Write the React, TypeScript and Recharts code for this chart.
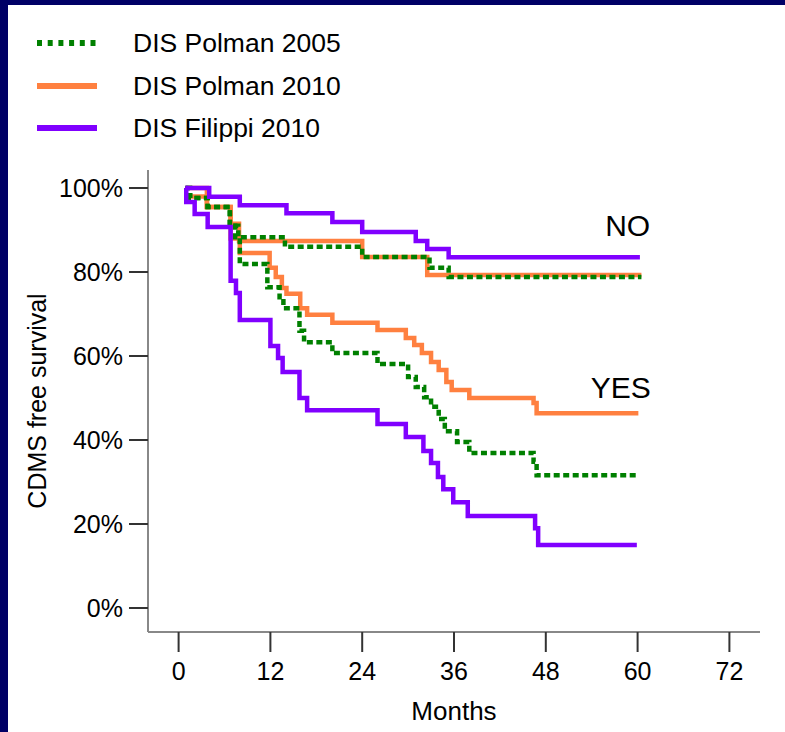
import { Line, LineChart, ReferenceDot, XAxis, YAxis } from "recharts";

// Kaplan-Meier style step curves, [month, % CDMS-free]
const polman2005No: [number, number][] = [
  [0.9, 100], [1.5, 97.6], [3.8, 95.5], [6.7, 91.0], [7.8, 88.3], [13.9, 86.0],
  [24.0, 83.6], [32.8, 81.0], [35.3, 78.8], [60.5, 78.8],
];
const polman2005Yes: [number, number][] = [
  [0.9, 100], [1.5, 97.6], [3.8, 95.5], [6.7, 91.0], [7.4, 88.3], [8.0, 81.9],
  [11.6, 76.4], [13.2, 74.0], [13.7, 71.4], [15.8, 66.0], [16.4, 63.3], [20.1, 60.7],
  [26.0, 58.1], [30.0, 55.0], [31.0, 52.6], [32.1, 50.2], [33.0, 47.9], [34.0, 45.0],
  [34.8, 42.1], [36.4, 39.5], [38.0, 36.9], [46.4, 34.8], [46.8, 31.6], [59.9, 31.6],
];
const polman2010No: [number, number][] = [
  [0.9, 100], [3.7, 95.5], [6.8, 91.5], [7.9, 87.4], [24.0, 83.6], [32.5, 79.3], [60.5, 79.3],
];
const polman2010Yes: [number, number][] = [
  [0.9, 98], [3.7, 95.5], [6.8, 88.0], [8.0, 84.5], [11.9, 81.0], [12.7, 78.8],
  [13.5, 76.2], [14.1, 74.8], [15.9, 71.4], [16.8, 69.8], [20.1, 67.9], [26.0, 66.2],
  [29.7, 64.3], [30.8, 62.6], [31.8, 60.7], [33.0, 58.6], [34.0, 56.7], [35.0, 53.8],
  [35.7, 51.9], [38.0, 50.0], [46.4, 48.8], [46.8, 46.4], [60.1, 46.4],
];
const filippiNo: [number, number][] = [
  [0.9, 100], [4.0, 97.9], [8.0, 95.9], [14.1, 94.0], [20.1, 91.9], [24.0, 89.5],
  [31.0, 87.4], [32.5, 85.5], [35.3, 83.5], [60.3, 83.5],
];
const filippiYes: [number, number][] = [
  [0.9, 100], [1.0, 96.7], [2.1, 93.8], [3.8, 90.7], [6.8, 77.9], [7.5, 75.0],
  [8.0, 68.6], [12.0, 62.4], [13.0, 59.5], [13.6, 56.2], [15.8, 50.0], [16.8, 47.1],
  [26.0, 43.8], [29.7, 40.7], [32.0, 37.4], [33.0, 34.5], [33.9, 31.2], [34.6, 28.3],
  [35.9, 25.2], [37.8, 21.9], [46.6, 19.0], [47.0, 15.0], [59.9, 15.0],
];

const xTicks = [0, 12, 24, 36, 48, 60, 72];
const yTicks = [0, 20, 40, 60, 80, 100];

const GREEN = "#008000";
const ORANGE = "#ff8040";
const PURPLE = "#8000ff";
const FONT = "'Liberation Sans', Arial, sans-serif";

const legendItems = [
  { name: "DIS Polman 2005", color: GREEN, dash: "5 5.7" },
  { name: "DIS Polman 2010", color: ORANGE, dash: undefined },
  { name: "DIS Filippi 2010", color: PURPLE, dash: undefined },
];

const toPoints = (d: [number, number][]) => d.map(([m, p]) => ({ m, p }));

const curves = [
  { key: "o-no", data: polman2010No, color: ORANGE, dash: undefined },
  { key: "o-yes", data: polman2010Yes, color: ORANGE, dash: undefined },
  { key: "g-no", data: polman2005No, color: GREEN, dash: "6 3.5" },
  { key: "g-yes", data: polman2005Yes, color: GREEN, dash: "6 3.5" },
  { key: "p-no", data: filippiNo, color: PURPLE, dash: undefined },
  { key: "p-yes", data: filippiYes, color: PURPLE, dash: undefined },
];

export default function App() {
  return (
    <div
      style={{
        position: "absolute",
        left: 0,
        top: 0,
        width: 785,
        height: 732,
        background: "#000066",
        fontFamily: FONT,
      }}
    >
      <div style={{ position: "absolute", left: 8, top: 5, right: 0, bottom: 0, background: "#fff" }} />

      <div style={{ position: "absolute", left: 37, top: 22 }}>
        {legendItems.map((it) => (
          <div key={it.name} style={{ display: "flex", alignItems: "center", height: 42.5 }}>
            <svg width={60} height={10}>
              <line x1={0} x2={60} y1={5} y2={5} stroke={it.color} strokeWidth={6} strokeDasharray={it.dash} />
            </svg>
            <span style={{ marginLeft: 36, fontSize: 26.5, lineHeight: 1, color: "#000" }}>{it.name}</span>
          </div>
        ))}
      </div>

      <div style={{ position: "absolute", left: 0, top: 0 }}>
        <LineChart width={785} height={732} margin={{ top: 170, right: 25, left: 0, bottom: 0 }}>
          <XAxis
            type="number"
            dataKey="m"
            domain={[-4, 76]}
            ticks={xTicks}
            allowDataOverflow
            height={100}
            tickSize={20}
            tickMargin={10}
            axisLine={{ stroke: "#888", strokeWidth: 2 }}
            tickLine={{ stroke: "#333", strokeWidth: 2 }}
            tick={{ fill: "#000", fontSize: 25 }}
            label={{ value: "Months", position: "insideBottom", offset: 12, fill: "#000", fontSize: 26 }}
          />
          <YAxis
            type="number"
            domain={[-5.71, 104.29]}
            ticks={yTicks}
            allowDataOverflow
            width={148}
            tickSize={19}
            tickMargin={6}
            tickFormatter={(v: number) => `${v}%`}
            axisLine={{ stroke: "#888", strokeWidth: 2 }}
            tickLine={{ stroke: "#333", strokeWidth: 2 }}
            tick={{ fill: "#000", fontSize: 25 }}
            label={{
              content: (props: any) => {
                const vb = props.viewBox;
                const cx = vb.x + 37;
                const cy = vb.y + vb.height / 2;
                return (
                  <text
                    x={cx}
                    y={cy}
                    textAnchor="middle"
                    dominantBaseline="central"
                    transform={`rotate(-90, ${cx}, ${cy})`}
                    fontSize={25}
                    fill="#000"
                  >
                    CDMS free survival
                  </text>
                );
              },
            }}
          />
          {curves.map((c) => (
            <Line
              key={c.key}
              data={toPoints(c.data)}
              dataKey="p"
              type="stepAfter"
              stroke={c.color}
              strokeWidth={4.5}
              strokeDasharray={c.dash}
              dot={false}
              activeDot={false}
              isAnimationActive={false}
            />
          ))}
          <ReferenceDot x={58.7} y={91.2} r={0} fill="none" stroke="none"
            label={{ value: "NO", position: "center", fontSize: 30, fill: "#000" }} />
          <ReferenceDot x={57.8} y={52.6} r={0} fill="none" stroke="none"
            label={{ value: "YES", position: "center", fontSize: 30, fill: "#000" }} />
        </LineChart>
      </div>
    </div>
  );
}
